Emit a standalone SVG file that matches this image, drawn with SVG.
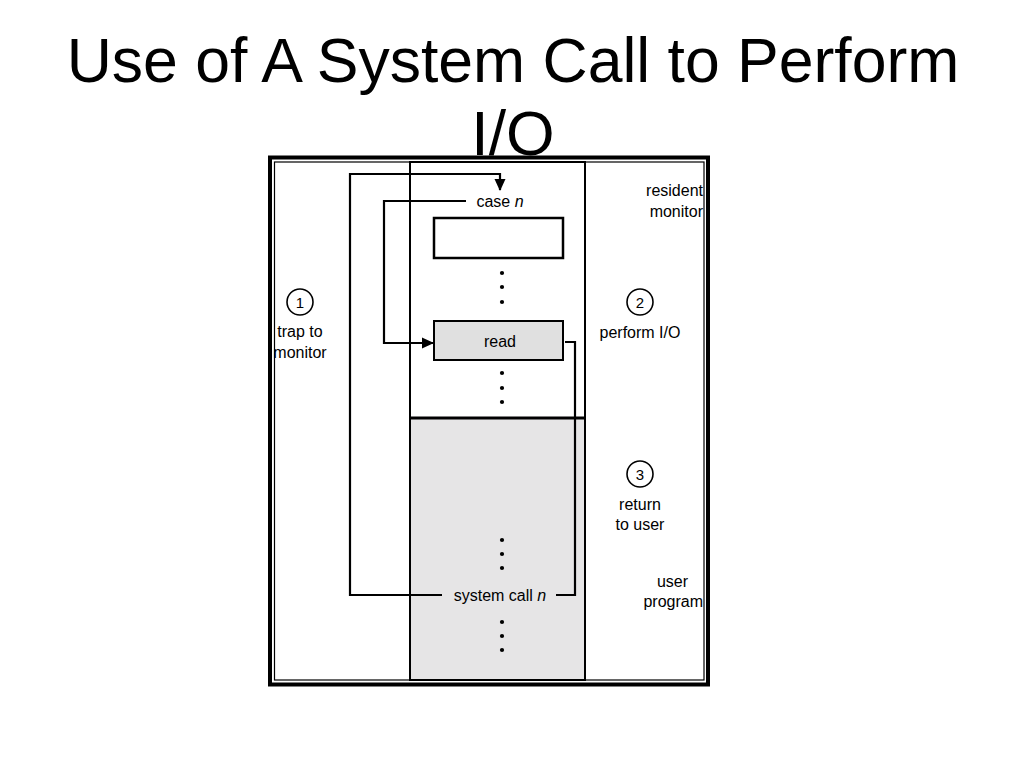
<svg xmlns="http://www.w3.org/2000/svg" width="1024" height="768" viewBox="0 0 1024 768">
<style>
  .t { font-family: "Liberation Sans", Arial, sans-serif; fill: #000; }
  .title { font-size: 62.5px; text-anchor: middle; }
  .lbl { font-size: 16px; }
  .num { font-size: 15px; text-anchor: middle; }
  .mid { text-anchor: middle; }
  .end { text-anchor: end; }
  .ln { fill: none; stroke: #000; stroke-width: 2.2; }
  .dot { fill: #000; }
</style>
<defs>
  <marker id="arr" viewBox="0 0 12 12" refX="11" refY="6" markerWidth="12" markerHeight="12" markerUnits="userSpaceOnUse" orient="auto">
    <path d="M0,0.5 L12,6 L0,11.5 z" fill="#000"/>
  </marker>
</defs>
<rect width="1024" height="768" fill="#fff"/>
<g id="title">
  <text class="t title" x="513" y="82">Use of A System Call to Perform</text>
  <text class="t title" x="513" y="155">I/O</text>
</g>
<g id="frame">
  <rect x="270" y="157.5" width="438" height="527" fill="#fff" stroke="#000" stroke-width="4"/>
  <rect x="274.5" y="162" width="429.5" height="518" fill="none" stroke="#000" stroke-width="1.2"/>
</g>
<g id="memory-column">
  <rect x="410" y="418" width="175" height="262" fill="#e6e5e6"/>
  <rect x="410" y="162" width="175" height="518" fill="none" stroke="#000" stroke-width="2"/>
  <line x1="410" y1="418" x2="585" y2="418" stroke="#000" stroke-width="3"/>
</g>
<g id="case-n">
  <text class="t lbl mid" x="500" y="207">case <tspan font-style="italic">n</tspan></text>
</g>
<g id="empty-box">
  <rect x="434" y="218" width="129" height="40" fill="#fff" stroke="#000" stroke-width="2.5"/>
</g>
<g id="read">
  <rect x="434" y="321" width="129" height="39" fill="#e0e0e0" stroke="#000" stroke-width="2"/>
  <text class="t lbl mid" x="500" y="346.5">read</text>
</g>
<g id="system-call-n">
  <text class="t lbl mid" x="500" y="600.5">system call <tspan font-style="italic">n</tspan></text>
</g>
<g id="dots">
  <circle class="dot" cx="502" cy="273" r="2.1"/>
  <circle class="dot" cx="502" cy="287" r="2.1"/>
  <circle class="dot" cx="502" cy="302" r="2.1"/>
  <circle class="dot" cx="502" cy="373" r="2.1"/>
  <circle class="dot" cx="502" cy="388" r="2.1"/>
  <circle class="dot" cx="502" cy="402" r="2.1"/>
  <circle class="dot" cx="502" cy="540" r="2.1"/>
  <circle class="dot" cx="502" cy="554" r="2.1"/>
  <circle class="dot" cx="502" cy="568" r="2.1"/>
  <circle class="dot" cx="502" cy="622" r="2.1"/>
  <circle class="dot" cx="502" cy="636" r="2.1"/>
  <circle class="dot" cx="502" cy="650" r="2.1"/>
</g>
<g id="step-1">
  <circle cx="300" cy="302" r="13" fill="#fff" stroke="#000" stroke-width="1.6"/>
  <text class="t num" x="300" y="307.5">1</text>
  <text class="t lbl mid" x="300" y="337">trap to</text>
  <text class="t lbl mid" x="300" y="357.5">monitor</text>
</g>
<g id="step-2">
  <circle cx="640" cy="302" r="13" fill="#fff" stroke="#000" stroke-width="1.6"/>
  <text class="t num" x="640" y="307.5">2</text>
  <text class="t lbl mid" x="640" y="337.5">perform I/O</text>
</g>
<g id="step-3">
  <circle cx="640" cy="474" r="13" fill="#fff" stroke="#000" stroke-width="1.6"/>
  <text class="t num" x="640" y="479.5">3</text>
  <text class="t lbl mid" x="640" y="509.5">return</text>
  <text class="t lbl mid" x="640" y="529.5">to user</text>
</g>
<g id="resident-monitor">
  <text class="t lbl end" x="703" y="196">resident</text>
  <text class="t lbl end" x="703" y="216.5">monitor</text>
</g>
<g id="user-program">
  <text class="t lbl end" x="688" y="586.5">user</text>
  <text class="t lbl end" x="703" y="607">program</text>
</g>
<g id="connectors">
  <path class="ln" d="M442,595 H350 V174 H500 V190" marker-end="url(#arr)"/>
  <path class="ln" d="M466,201 H384 V343 H433" marker-end="url(#arr)"/>
  <path class="ln" d="M565,342 H575 V595 H556"/>
</g>
</svg>
